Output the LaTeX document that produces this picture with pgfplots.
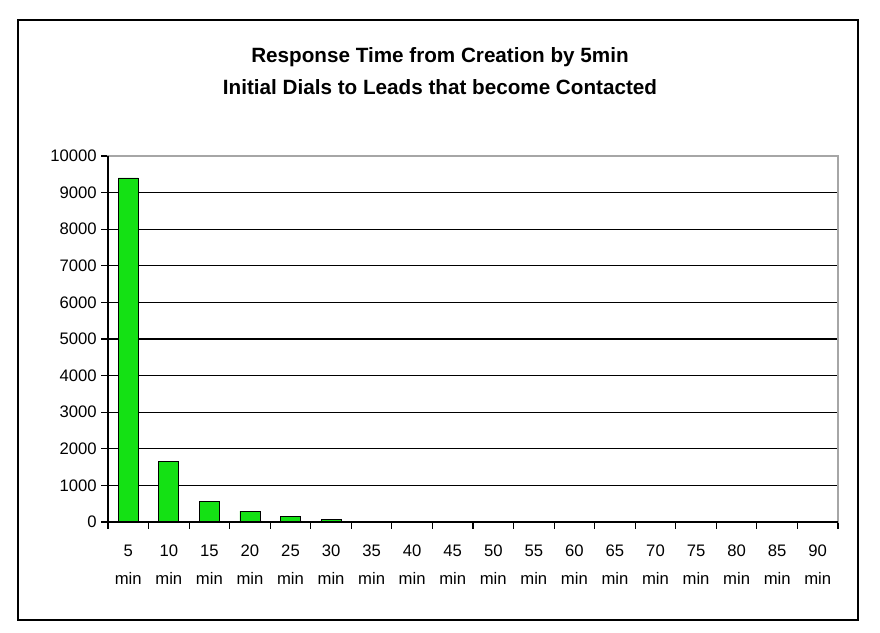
\documentclass[border=0pt]{standalone}
\usepackage{pgfplots}
\pgfplotsset{compat=1.18}
\usepackage{fontspec}
\setmainfont{Liberation Sans}
\definecolor{bargreen}{RGB}{20,225,20}
\newcommand{\lab}[1]{\strut #1\\\strut min}
\begin{document}
\begin{tikzpicture}
\path (0pt,0pt) rectangle (660pt,474pt);
\draw[black, line width=0.8pt] (13.5pt,9pt) rectangle (643.5pt,459pt);
\node[font=\fontsize{15.5}{24}\selectfont\bfseries, align=center] at (330pt,421pt) {Response Time from Creation by 5min\\Initial Dials to Leads that become Contacted};
\begin{axis}[
  at={(81pt,82.5pt)}, anchor=south west,
  scale only axis, width=547.5pt, height=274.5pt,
  xmin=-0.5, xmax=17.5, ymin=0, ymax=10000,
  ytick distance=1000,
  xtick={0,...,17},
  xticklabels={{\lab{5}},{\lab{10}},{\lab{15}},{\lab{20}},{\lab{25}},{\lab{30}},{\lab{35}},{\lab{40}},{\lab{45}},{\lab{50}},{\lab{55}},{\lab{60}},{\lab{65}},{\lab{70}},{\lab{75}},{\lab{80}},{\lab{85}},{\lab{90}}},
  xticklabel style={align=center, anchor=north, font=\fontsize{12.5}{21}\selectfont, yshift=-3pt},
  yticklabel style={font=\fontsize{12.5}{14}\selectfont},
  major x tick style={draw=none},
  minor xtick={-0.5,0.5,...,17.5},
  minor x tick style={black, line width=0.8pt},
  minor tick length=5pt,
  major tick length=5pt,
  tick align=outside,
  tick pos=left,
  ytick style={black, line width=0.8pt},
  /pgf/number format/assume math mode=true,
  /pgf/number format/set thousands separator={},
  scaled y ticks=false,
  ymajorgrids, grid style={black, line width=0.8pt},
  axis line style={gray!70, line width=0.8pt},
  ybar, bar width=15pt,
  clip=false,
]
\addplot[fill=bargreen, draw=black, line width=0.6pt] coordinates {
(0,9400) (1,1650) (2,560) (3,300) (4,140) (5,60) (6,15) (7,10) (8,4) (9,3)
(10,2) (11,2) (12,1) (13,1) (14,1) (15,1) (16,1) (17,1)};
\draw[black, line width=0.8pt] (rel axis cs:0,1) -- (rel axis cs:0,0) -- (rel axis cs:1,0);
\end{axis}
\end{tikzpicture}
\end{document}
